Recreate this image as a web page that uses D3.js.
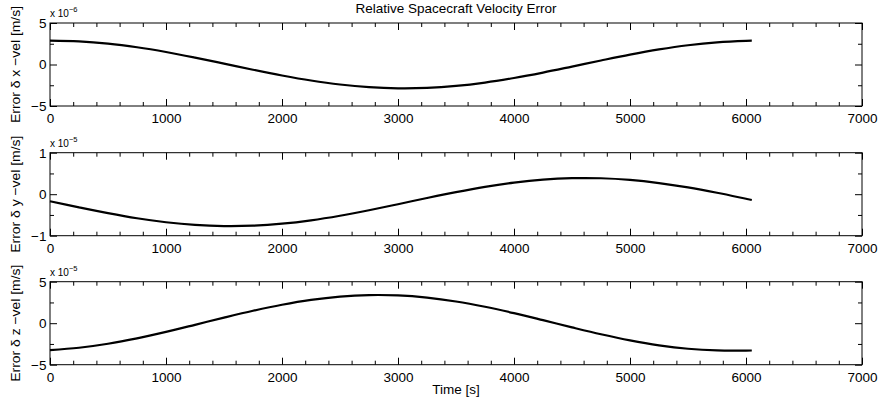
<!DOCTYPE html>
<html>
<head>
<meta charset="utf-8">
<script src="https://cdn.jsdelivr.net/npm/d3@7"></script>
<style>
  html, body { margin: 0; padding: 0; background: #fff; }
  svg { display: block; }
  text { font-family: "Liberation Sans", Arial, sans-serif; fill: #000; }
</style>
</head>
<body>
<svg id="chart" width="879" height="406"></svg>
<script>
// ---- Data ----
const time = [0, 250, 500, 750, 1000, 1250, 1500, 1750, 2000, 2250, 2500, 2750, 3000,
  3250, 3500, 3750, 4000, 4250, 4500, 4750, 5000, 5250, 5500, 5750, 6000, 6050];

// x-velocity error, units of 1e-6 m/s
const xVel = [2.870, 2.782, 2.513, 2.075, 1.504, 0.829, 0.105, -0.631, -1.321, -1.928,
  -2.407, -2.725, -2.865, -2.815, -2.580, -2.176, -1.626, -0.972, -0.250, 0.484,
  1.190, 1.814, 2.322, 2.674, 2.852, 2.865];

// y-velocity error, units of 1e-5 m/s
const yVel = [-0.169, -0.317, -0.457, -0.580, -0.676, -0.741, -0.769, -0.759, -0.711, -0.630,
  -0.519, -0.386, -0.241, -0.092, 0.050, 0.177, 0.279, 0.351, 0.386, 0.384,
  0.344, 0.268, 0.163, 0.034, -0.110, -0.139];

// z-velocity error, units of 1e-5 m/s
const zVel = [-3.235, -2.955, -2.473, -1.821, -1.044, -0.194, 0.674, 1.499, 2.227, 2.809,
  3.204, 3.388, 3.348, 3.085, 2.619, 1.980, 1.210, 0.363, -0.505, -1.336,
  -2.074, -2.669, -3.081, -3.282, -3.300, -3.290];

const xTicks = [0, 1000, 2000, 3000, 4000, 5000, 6000, 7000];
const xMinorTicks = d3.range(0, 7001, 200).filter(v => v % 1000 !== 0);

const panelLabels = ["Error \u03B4 x \u2212vel [m/s]", "Error \u03B4 y \u2212vel [m/s]", "Error \u03B4 z \u2212vel [m/s]"];
const panelExponents = ["\u22126", "\u22125", "\u22125"];
const panelYDomains = [[-5, 5], [-1, 1], [-5, 5]];
const panelYTicks = [[-5, 0, 5], [-1, 0, 1], [-5, 0, 5]];
const panelYMinor = [[-2.5, 2.5], [-0.5, 0.5], [-2.5, 2.5]];
const panelSeries = [xVel, yVel, zVel];

const titleText = "Relative Spacecraft Velocity Error";
const xLabelText = "Time [s]";

// ---- Layout ----
const svg = d3.select("#chart");
const left = 50, right = 862;
const tops = [23, 152.7, 281.7];
const ph = 83;
const fontSize = 13.5;
const majorLen = 7, minorLen = 4;

const x = d3.scaleLinear().domain([0, 7000]).range([left, right]);

function fmt(v) { return v < 0 ? "\u2212" + Math.abs(v) : String(v); }

tops.forEach((top, i) => {
  const bottom = top + ph;
  const y = d3.scaleLinear().domain(panelYDomains[i]).range([bottom, top]);
  const g = svg.append("g");

  // line
  const line = d3.line()
    .x((d, k) => x(time[k]))
    .y(d => y(d))
    .curve(d3.curveCatmullRom.alpha(0.5));
  g.append("path")
    .datum(panelSeries[i])
    .attr("d", line)
    .attr("fill", "none")
    .attr("stroke", "#000")
    .attr("stroke-width", 2.2);

  const bx = g.append("g").attr("transform", `translate(0,${bottom})`)
    .call(d3.axisBottom(x).tickValues(xTicks).tickSize(-majorLen).tickPadding(7.5).tickFormat(d3.format("d")));
  const bxm = g.append("g").attr("transform", `translate(0,${bottom})`)
    .call(d3.axisBottom(x).tickValues(xMinorTicks).tickSize(-minorLen).tickFormat(""));
  const tx = g.append("g").attr("transform", `translate(0,${top})`)
    .call(d3.axisTop(x).tickValues(xTicks).tickSize(-majorLen).tickFormat(""));
  const txm = g.append("g").attr("transform", `translate(0,${top})`)
    .call(d3.axisTop(x).tickValues(xMinorTicks).tickSize(-minorLen).tickFormat(""));

  const ly = g.append("g").attr("transform", `translate(${left},0)`)
    .call(d3.axisLeft(y).tickValues(panelYTicks[i]).tickSize(-majorLen).tickPadding(3.5).tickFormat(fmt));
  const lym = g.append("g").attr("transform", `translate(${left},0)`)
    .call(d3.axisLeft(y).tickValues(panelYMinor[i]).tickSize(-minorLen).tickFormat(""));
  const ry = g.append("g").attr("transform", `translate(${right},0)`)
    .call(d3.axisRight(y).tickValues(panelYTicks[i]).tickSize(-majorLen).tickFormat(""));
  const rym = g.append("g").attr("transform", `translate(${right},0)`)
    .call(d3.axisRight(y).tickValues(panelYMinor[i]).tickSize(-minorLen).tickFormat(""));

  [bx, bxm, tx, txm, ly, lym, ry, rym].forEach(a => {
    a.select(".domain").remove();
    a.selectAll(".tick line").attr("stroke", "#000").attr("stroke-width", 1);
    a.selectAll(".tick text")
      .attr("font-family", "Liberation Sans, Arial, sans-serif")
      .attr("font-size", fontSize)
      .attr("fill", "#000");
  });

  g.append("rect")
    .attr("x", left).attr("y", top)
    .attr("width", right - left).attr("height", ph)
    .attr("fill", "none").attr("stroke", "#000").attr("stroke-width", 1);

  // y label
  g.append("text")
    .attr("transform", `translate(20,${(top + bottom) / 2}) rotate(-90)`)
    .attr("text-anchor", "middle")
    .attr("font-size", fontSize)
    .attr("textLength", 117)
    .attr("lengthAdjust", "spacingAndGlyphs")
    .text(panelLabels[i]);

  // exponent
  const ex = g.append("text")
    .attr("x", left)
    .attr("y", top - 6)
    .attr("font-size", 10);
  ex.append("tspan").text("x 10");
  ex.append("tspan").attr("dy", -5).attr("font-size", 7.5).text(panelExponents[i]);
});

svg.append("text")
  .attr("x", (left + right) / 2)
  .attr("y", 13)
  .attr("text-anchor", "middle")
  .attr("font-size", fontSize)
  .text(titleText);

svg.append("text")
  .attr("x", (left + right) / 2)
  .attr("y", 394)
  .attr("text-anchor", "middle")
  .attr("font-size", fontSize)
  .text(xLabelText);
</script>
</body>
</html>
